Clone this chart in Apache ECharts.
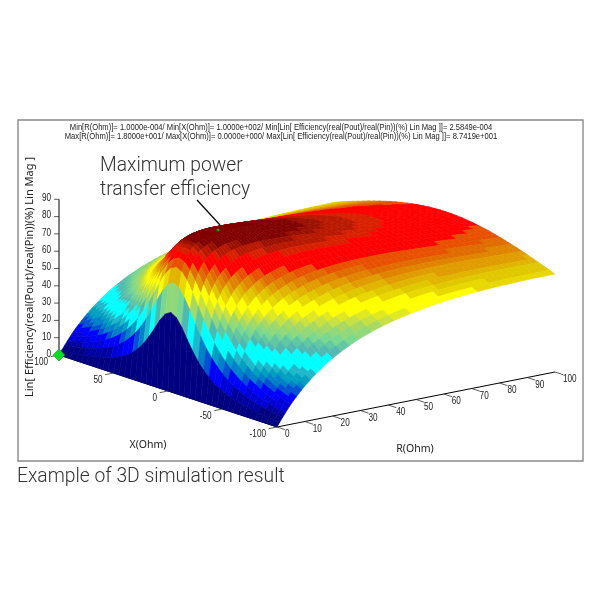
<!DOCTYPE html>
<html>
<head>
<meta charset="utf-8">
<style>
  html, body { margin: 0; padding: 0; background: #fff; }
  #chart { width: 600px; height: 600px; }
</style>
<script src="https://cdn.jsdelivr.net/npm/echarts@6/dist/echarts.min.js"></script>
</head>
<body>
<div id="chart"></div>
<script>
// values, one row per R, columns are |X| = 0,5,...,100 (surface is mirrored in X)
const rValues = [0,1,2,3,4,5,6,7,8,9,10,11,12,13,14,15,16,17,18,19,20,21,22,23,24,25,26,27,28,29,30,32,34,36,38,40,42,44,46,48,50,52,54,56,58,60,62,64,66,68,70,72,74,76,78,80,82,84,86,88,90,92,94,96,98,100];
const xValues = [0,5,10,15,20,25,30,35,40,45,50,55,60,65,70,75,80,85,90,95,100];
const efficiency = [
  [0,0,0,0,0,0,0,0,0,0,0,0,0,0,0,0,0,0,0,0,0],
  [45.1,43.2,38.6,32.7,27.0,22.0,18.0,14.8,12.2,10.3,8.7,7.4,6.4,5.6,4.9,4.3,3.8,3.4,3.1,2.8,2.5],
  [61.8,60.0,55.4,49.1,42.3,36.0,30.4,25.7,21.8,18.6,16.0,13.8,12.0,10.6,9.3,8.3,7.4,6.6,6.0,5.4,4.9],
  [70.4,68.9,64.7,58.8,52.2,45.5,39.4,34.0,29.4,25.4,22.1,19.3,17.0,15.0,13.3,11.9,10.7,9.6,8.7,7.9,7.2],
  [75.5,74.2,70.5,65.2,58.9,52.5,46.3,40.6,35.6,31.2,27.4,24.2,21.4,19.0,17.0,15.3,13.7,12.4,11.3,10.3,9.4],
  [78.8,77.7,74.5,69.7,63.9,57.7,51.6,45.9,40.7,36.0,32.0,28.4,25.3,22.7,20.4,18.3,16.6,15.1,13.7,12.5,11.5],
  [81.1,80.1,77.3,72.9,67.6,61.7,55.9,50.2,45.0,40.2,36.0,32.2,28.9,26.0,23.4,21.2,19.2,17.5,16.0,14.7,13.5],
  [82.8,81.9,79.4,75.4,70.4,65.0,59.3,53.8,48.6,43.8,39.5,35.5,32.1,29.0,26.3,23.8,21.7,19.8,18.2,16.7,15.3],
  [84.1,83.3,80.9,77.3,72.7,67.6,62.2,56.9,51.7,46.9,42.5,38.5,34.9,31.7,28.9,26.3,24.0,22.0,20.2,18.6,17.1],
  [85.0,84.3,82.1,78.8,74.5,69.7,64.6,59.4,54.4,49.7,45.3,41.2,37.5,34.2,31.2,28.6,26.2,24.0,22.1,20.4,18.8],
  [85.7,85.0,83.1,80.0,76.0,71.5,66.6,61.7,56.8,52.1,47.7,43.6,39.9,36.5,33.5,30.7,28.2,26.0,23.9,22.1,20.5],
  [86.2,85.6,83.8,80.9,77.2,72.9,68.3,63.5,58.8,54.2,49.9,45.8,42.1,38.6,35.5,32.6,30.1,27.8,25.6,23.7,22.0],
  [86.7,86.1,84.4,81.7,78.3,74.2,69.8,65.2,60.6,56.1,51.9,47.8,44.1,40.6,37.4,34.5,31.9,29.5,27.3,25.3,23.5],
  [87.0,86.4,84.8,82.3,79.1,75.2,71.0,66.6,62.1,57.8,53.6,49.6,45.9,42.4,39.1,36.2,33.5,31.1,28.8,26.8,24.9],
  [87.2,86.7,85.2,82.9,79.8,76.2,72.1,67.9,63.6,59.4,55.2,51.3,47.6,44.1,40.8,37.9,35.1,32.6,30.3,28.2,26.3],
  [87.3,86.9,85.5,83.3,80.4,76.9,73.0,69.0,64.8,60.7,56.6,52.8,49.1,45.6,42.3,39.4,36.6,34.0,31.7,29.6,27.6],
  [87.4,87.0,85.7,83.6,80.9,77.6,73.9,70.0,66.0,61.9,58.0,54.2,50.5,47.0,43.8,40.8,38.0,35.4,33.0,30.9,28.8],
  [87.4,87.1,85.9,83.9,81.3,78.1,74.6,70.8,67.0,63.0,59.2,55.4,51.8,48.3,45.1,42.1,39.3,36.7,34.3,32.1,30.0],
  [87.4,87.1,86.0,84.1,81.6,78.6,75.3,71.6,67.9,64.1,60.3,56.6,53.0,49.6,46.4,43.4,40.6,38.0,35.5,33.3,31.2],
  [87.4,87.1,86.1,84.3,81.9,79.0,75.8,72.3,68.7,65.0,61.3,57.6,54.1,50.7,47.6,44.6,41.8,39.1,36.6,34.4,32.3],
  [87.4,87.1,86.1,84.4,82.1,79.4,76.3,72.9,69.4,65.8,62.2,58.6,55.2,51.8,48.7,45.7,42.9,40.2,37.7,35.4,33.3],
  [87.4,87.1,86.1,84.5,82.3,79.7,76.7,73.4,70.0,66.5,63.0,59.4,56.1,52.8,49.7,46.7,43.9,41.2,38.7,36.4,34.3],
  [87.3,87.0,86.0,84.5,82.4,79.9,77.0,73.8,70.5,67.1,63.7,60.2,56.9,53.7,50.6,47.6,44.8,42.2,39.7,37.4,35.2],
  [87.2,86.9,86.0,84.5,82.5,80.1,77.4,74.3,71.1,67.8,64.4,61.0,57.8,54.6,51.5,48.6,45.8,43.2,40.7,38.4,36.2],
  [87.1,86.8,85.9,84.5,82.6,80.3,77.7,74.7,71.6,68.4,65.1,61.8,58.6,55.5,52.4,49.5,46.7,44.1,41.6,39.3,37.1],
  [87.0,86.7,85.8,84.5,82.7,80.4,77.9,75.0,72.0,68.9,65.7,62.4,59.3,56.2,53.2,50.3,47.5,44.9,42.4,40.1,37.9],
  [86.8,86.6,85.7,84.4,82.7,80.5,78.1,75.3,72.4,69.3,66.2,63.0,59.9,56.9,53.9,51.1,48.3,45.7,43.2,40.9,38.7],
  [86.7,86.5,85.6,84.4,82.7,80.6,78.3,75.6,72.8,69.8,66.7,63.6,60.6,57.6,54.7,51.9,49.1,46.5,44.0,41.7,39.5],
  [86.5,86.3,85.5,84.3,82.7,80.7,78.4,75.8,73.1,70.2,67.2,64.2,61.2,58.2,55.4,52.6,49.9,47.3,44.8,42.5,40.3],
  [86.4,86.2,85.4,84.2,82.7,80.8,78.5,76.0,73.4,70.5,67.6,64.7,61.7,58.8,56.0,53.2,50.6,48.0,45.5,43.2,41.0],
  [86.2,86.0,85.3,84.1,82.6,80.8,78.6,76.2,73.6,70.8,68.0,65.1,62.2,59.3,56.5,53.8,51.2,48.6,46.2,43.9,41.7],
  [85.8,85.6,85.0,83.9,82.5,80.8,78.7,76.5,74.0,71.4,68.7,65.9,63.1,60.4,57.6,55.0,52.4,49.9,47.5,45.2,43.0],
  [85.4,85.2,84.7,83.7,82.3,80.7,78.8,76.7,74.3,71.8,69.2,66.6,63.9,61.2,58.5,56.0,53.4,51.0,48.6,46.3,44.2],
  [85.0,84.8,84.3,83.4,82.1,80.6,78.8,76.8,74.5,72.2,69.7,67.2,64.6,62.0,59.4,56.9,54.4,52.0,49.7,47.4,45.3],
  [84.6,84.4,83.9,83.1,81.9,80.5,78.8,76.8,74.7,72.5,70.1,67.7,65.2,62.7,60.2,57.7,55.3,52.9,50.6,48.4,46.3],
  [84.2,84.0,83.5,82.7,81.6,80.3,78.7,76.8,74.8,72.7,70.4,68.1,65.7,63.3,60.9,58.5,56.1,53.8,51.5,49.3,47.2],
  [83.8,83.6,83.2,82.4,81.4,80.1,78.6,76.8,74.9,72.8,70.7,68.4,66.1,63.8,61.5,59.1,56.8,54.5,52.3,50.2,48.1],
  [83.3,83.2,82.8,82.0,81.1,79.8,78.4,76.7,74.9,72.9,70.9,68.7,66.5,64.2,62.0,59.7,57.5,55.2,53.1,51.0,48.9],
  [82.9,82.8,82.4,81.7,80.8,79.6,78.2,76.6,74.9,73.0,71.0,68.9,66.8,64.6,62.4,60.2,58.0,55.8,53.8,51.7,49.6],
  [82.5,82.3,82.0,81.3,80.4,79.3,78.0,76.5,74.8,73.0,71.1,69.1,67.1,65.0,62.8,60.7,58.5,56.4,54.4,52.3,50.3],
  [82.1,81.9,81.6,80.9,80.1,79.0,77.8,76.4,74.7,73.0,71.2,69.3,67.3,65.3,63.2,61.1,59.0,56.9,54.9,52.9,50.9],
  [81.6,81.5,81.1,80.5,79.7,78.7,77.5,76.2,74.6,73.0,71.2,69.4,67.4,65.5,63.5,61.4,59.4,57.4,55.4,53.5,51.5],
  [81.2,81.1,80.7,80.2,79.4,78.4,77.3,76.0,74.5,72.9,71.2,69.5,67.6,65.7,63.7,61.7,59.8,57.8,55.9,54.0,52.1],
  [80.7,80.6,80.3,79.8,79.0,78.1,77.0,75.8,74.4,72.8,71.2,69.5,67.7,65.8,63.9,62.0,60.1,58.2,56.3,54.4,52.6],
  [80.3,80.2,79.9,79.4,78.7,77.8,76.8,75.6,74.2,72.7,71.2,69.5,67.8,66.0,64.1,62.3,60.4,58.5,56.7,54.8,53.0],
  [79.9,79.8,79.5,79.0,78.3,77.5,76.5,75.3,74.0,72.6,71.1,69.5,67.8,66.1,64.3,62.5,60.7,58.8,57.0,55.2,53.4],
  [79.5,79.4,79.1,78.6,78.0,77.2,76.2,75.1,73.8,72.5,71.0,69.5,67.8,66.2,64.4,62.7,60.9,59.1,57.3,55.6,53.8],
  [79.0,78.9,78.6,78.2,77.6,76.8,75.9,74.8,73.6,72.3,70.9,69.4,67.8,66.2,64.5,62.8,61.1,59.3,57.6,55.9,54.2],
  [78.6,78.5,78.2,77.8,77.2,76.5,75.6,74.6,73.4,72.1,70.8,69.3,67.8,66.2,64.6,62.9,61.3,59.5,57.9,56.2,54.5],
  [78.2,78.1,77.8,77.4,76.8,76.1,75.3,74.3,73.2,71.9,70.6,69.2,67.7,66.2,64.6,63.0,61.4,59.7,58.1,56.4,54.8],
  [77.8,77.7,77.4,77.0,76.5,75.8,75.0,74.0,73.0,71.7,70.5,69.1,67.7,66.2,64.7,63.1,61.5,59.9,58.3,56.6,55.1],
  [77.3,77.2,77.0,76.6,76.1,75.4,74.6,73.7,72.7,71.5,70.3,69.0,67.6,66.2,64.7,63.1,61.6,60.0,58.4,56.8,55.3],
  [76.9,76.8,76.6,76.3,75.8,75.1,74.3,73.4,72.5,71.3,70.1,68.9,67.5,66.1,64.7,63.2,61.7,60.1,58.6,57.0,55.5],
  [76.5,76.4,76.2,75.9,75.4,74.7,74.0,73.1,72.2,71.1,69.9,68.7,67.4,66.0,64.6,63.2,61.7,60.2,58.7,57.2,55.7],
  [76.1,76.0,75.8,75.5,75.0,74.4,73.7,72.9,71.9,70.9,69.8,68.6,67.3,66.0,64.6,63.2,61.8,60.3,58.8,57.3,55.9],
  [75.7,75.6,75.4,75.1,74.6,74.1,73.4,72.6,71.6,70.6,69.6,68.4,67.2,65.9,64.6,63.2,61.8,60.3,58.9,57.4,56.0],
  [75.3,75.2,75.0,74.7,74.3,73.8,73.1,72.3,71.4,70.4,69.4,68.3,67.1,65.8,64.5,63.2,61.8,60.4,59.0,57.5,56.1],
  [74.9,74.8,74.6,74.3,73.9,73.4,72.7,72.0,71.1,70.2,69.1,68.1,66.9,65.7,64.4,63.1,61.8,60.4,59.0,57.6,56.2],
  [74.5,74.4,74.3,74.0,73.6,73.1,72.4,71.7,70.9,70.0,68.9,67.9,66.8,65.6,64.3,63.1,61.8,60.4,59.1,57.7,56.3],
  [74.1,74.0,73.9,73.6,73.2,72.7,72.1,71.4,70.6,69.7,68.7,67.7,66.6,65.4,64.2,63.0,61.7,60.4,59.1,57.8,56.4],
  [73.7,73.7,73.5,73.2,72.9,72.4,71.8,71.1,70.3,69.5,68.5,67.5,66.4,65.3,64.1,62.9,61.7,60.4,59.1,57.8,56.5],
  [73.3,73.3,73.1,72.8,72.5,72.0,71.4,70.7,70.0,69.2,68.3,67.3,66.2,65.2,64.0,62.8,61.6,60.4,59.1,57.8,56.6],
  [73.0,72.9,72.7,72.5,72.1,71.7,71.1,70.4,69.7,68.9,68.1,67.1,66.1,65.1,63.9,62.7,61.6,60.4,59.1,57.9,56.6],
  [72.6,72.5,72.3,72.1,71.7,71.3,70.8,70.1,69.4,68.6,67.8,66.9,65.9,64.9,63.8,62.6,61.5,60.3,59.1,57.9,56.6],
  [72.2,72.2,72.0,71.8,71.4,71.0,70.5,69.8,69.2,68.4,67.6,66.7,65.7,64.7,63.7,62.5,61.4,60.3,59.1,57.9,56.7],
  [71.8,71.8,71.6,71.4,71.0,70.6,70.1,69.5,68.9,68.1,67.3,66.4,65.5,64.5,63.5,62.4,61.3,60.2,59.0,57.9,56.7]
];
const bandTops = [3.6,7,11,15,18,21,24,27,34,37,39.5,42,44.5,47,49,51,56,58,60,62,64,66,68,70.5,77,79,81.5,83,99];
const bandColors = ['#000080','#0000a0','#0000d8','#0000ff','#0050d0','#0080c8','#00a0c0','#20b8c8','#00ffff','#50b8b0','#60c8a0','#78d890','#90d878','#a8d860','#c8e040','#e0e820','#ffff00','#e8d800','#e0c800','#e0b400','#e09c00','#e08400','#e06c00','#e85000','#ff0000','#d82000','#b81800','#9a1000','#800000'];

const rTicks = [0,10,20,30,40,50,60,70,80,90,100];
const xTicks = [100,50,0,-50,-100];
const zTicks = [0,10,20,30,40,50,60,70,80,90];
const maxPoint = [18, 0, 87.4];
const minPoint = [0, 100, 0];

const chart = echarts.init(document.getElementById('chart'));

// oblique view of the box: R runs right/up, X runs left/up, efficiency straight up
function project(r, x, z) {
  return [277 + r * 2.78 - (x + 100) * 1.09, 427 - r * 0.55 - (x + 100) * 0.36 - z * 1.73];
}

function bandColor(v) {
  for (let i = 0; i < bandTops.length; i++) {
    if (v < bandTops[i]) return bandColors[i];
  }
  return bandColors[bandColors.length - 1];
}

// full X line, +100 down to -100
const xLine = [];
const zByR = efficiency.map(() => []);
for (let j = xValues.length - 1; j >= 0; j--) {
  xLine.push(xValues[j]);
  efficiency.forEach((row, i) => zByR[i].push(row[j]));
}
for (let j = 1; j < xValues.length; j++) {
  xLine.push(-xValues[j]);
  efficiency.forEach((row, i) => zByR[i].push(row[j]));
}

// back cells first so the front ones paint over them
const cells = [];
for (let i = rValues.length - 2; i >= 0; i--) {
  for (let j = 0; j < xLine.length - 1; j++) {
    cells.push([i, j]);
  }
}

function renderCell(params, api) {
  const i = api.value(0), j = api.value(1);
  const corners = [[i, j], [i + 1, j], [i + 1, j + 1], [i, j + 1]];
  const points = corners.map(c => api.coord(project(rValues[c[0]], xLine[c[1]], zByR[c[0]][c[1]])));
  // flat colour from the low R edge, so the strip at R = 0 stays navy
  const fill = bandColor((zByR[i][j] + zByR[i][j + 1]) / 2);
  return {
    type: 'polygon',
    shape: { points: points },
    style: { fill: fill, stroke: fill, lineWidth: 0.6 }
  };
}

function line(api, a, b, color, width) {
  const p = api.coord(a), q = api.coord(b);
  return {
    type: 'line',
    shape: { x1: p[0], y1: p[1], x2: q[0], y2: q[1] },
    style: { stroke: color || '#000', lineWidth: width || 1 }
  };
}

function label(api, pos, text, align) {
  const p = api.coord(pos);
  return {
    type: 'text',
    x: p[0],
    y: p[1],
    scaleX: 0.78,
    style: {
      text: String(text),
      fill: '#222',
      font: '10.5px "Liberation Sans", sans-serif',
      align: align,
      verticalAlign: 'middle'
    }
  };
}

// one item per axis tick: [axis, value]
const tickItems = [].concat(
  rTicks.map(v => [0, v]),
  xTicks.map(v => [1, v]),
  zTicks.map(v => [2, v])
);

function renderTick(params, api) {
  const axis = api.value(0), v = api.value(1);
  let a, b, lab, align;
  if (axis === 0) {
    a = project(v, -100, 0);
    b = project(v, -107.5, 0);
    lab = [a[0] + 8, a[1] + 7.5];
    align = 'left';
  } else if (axis === 1) {
    a = project(0, v, 0);
    b = project(-3, v, 0);
    lab = [a[0] - 11, a[1] + 7];
    align = 'right';
  } else {
    a = project(0, 100, v);
    b = [a[0] - 5, a[1]];
    lab = [a[0] - 8, a[1] - 1];
    align = 'right';
  }
  return {
    type: 'group',
    children: [line(api, a, b, '#333', 0.8), label(api, lab, v, align)]
  };
}

function renderAxes(params, api) {
  return {
    type: 'group',
    children: [
      line(api, project(0, -100, 0), project(100, -100, 0)),
      line(api, project(0, 100, 0), project(0, -100, 0)),
      line(api, project(0, 100, 0), project(0, 100, 90))
    ]
  };
}

function renderMarker(params, api) {
  const c = api.coord(project(api.value(0), api.value(1), api.value(2)));
  const s = api.value(3);
  return {
    type: 'polygon',
    shape: { points: [[c[0], c[1] - s], [c[0] + s, c[1]], [c[0], c[1] + s], [c[0] - s, c[1]]] },
    style: { fill: '#00e020', stroke: '#118811', lineWidth: 0.5 }
  };
}

const labelFont = '"Liberation Sans", sans-serif';
const noteFont = 'Roboto, "Noto Sans", sans-serif';

const option = {
  animation: false,
  backgroundColor: '#fff',
  grid: { left: 0, right: 0, top: 0, bottom: 0 },
  xAxis: { type: 'value', min: 0, max: 600, show: false },
  yAxis: { type: 'value', min: 0, max: 600, inverse: true, show: false },
  series: [
    {
      type: 'custom',
      silent: true,
      clip: false,
      renderItem: renderAxes,
      data: [[0]]
    },
    {
      type: 'custom',
      silent: true,
      clip: false,
      renderItem: renderCell,
      encode: { x: -1, y: -1 },
      data: cells
    },
    {
      type: 'custom',
      silent: true,
      clip: false,
      renderItem: renderTick,
      encode: { x: -1, y: -1 },
      data: tickItems
    },
    {
      type: 'custom',
      silent: true,
      clip: false,
      renderItem: renderMarker,
      encode: { x: -1, y: -1 },
      data: [minPoint.concat(6), maxPoint.concat(1.5)]
    }
  ],
  graphic: [
    { type: 'rect', z: -1, shape: { x: 18, y: 120, width: 565, height: 341 }, style: { fill: '#fff', stroke: '#8a8a8a', lineWidth: 1.4 } },
    { type: 'text', x: 281, y: 127, scaleX: 0.8, style: { text: 'Min[R(Ohm)]= 1.0000e-004/ Min[X(Ohm)]= 1.0000e+002/ Min[Lin[ Efficiency(real(Pout)/real(Pin))(%) Lin Mag ]]= 2.5849e-004', font: '9.5px ' + labelFont, fill: '#222', align: 'center', verticalAlign: 'middle' } },
    { type: 'text', x: 281, y: 136, scaleX: 0.8, style: { text: 'Max[R(Ohm)]= 1.8000e+001/ Max[X(Ohm)]= 0.0000e+000/ Max[Lin[ Efficiency(real(Pout)/real(Pin))(%) Lin Mag ]]= 8.7419e+001', font: '9.5px ' + labelFont, fill: '#222', align: 'center', verticalAlign: 'middle' } },
    { type: 'text', x: 100, y: 166, style: { text: 'Maximum power', font: '300 19.3px ' + noteFont, fill: '#333', verticalAlign: 'middle' } },
    { type: 'text', x: 100, y: 190, style: { text: 'transfer efficiency', font: '300 19.3px ' + noteFont, fill: '#333', verticalAlign: 'middle' } },
    { type: 'line', shape: { x1: 197, y1: 200, x2: 220, y2: 225 }, style: { stroke: '#111', lineWidth: 1.4 } },
    { type: 'text', x: 17, y: 477, style: { text: 'Example of 3D simulation result', font: '300 19.3px ' + noteFont, fill: '#333', verticalAlign: 'middle' } },
    { type: 'text', x: 148, y: 445, style: { text: 'X(Ohm)', font: '10.5px "Noto Sans", sans-serif', fill: '#222', align: 'center', verticalAlign: 'middle' } },
    { type: 'text', x: 415, y: 449, style: { text: 'R(Ohm)', font: '10.5px "Noto Sans", sans-serif', fill: '#222', align: 'center', verticalAlign: 'middle' } },
    { type: 'text', x: 30, y: 277, rotation: Math.PI / 2, style: { text: 'Lin[ Efficiency(real(Pout)/real(Pin))(%) Lin Mag ]', font: '11px "Noto Sans", sans-serif', fill: '#222', align: 'center', verticalAlign: 'middle' } }
  ]
};

chart.setOption(option);
window.addEventListener('resize', chart.resize);
</script>
</body>
</html>
